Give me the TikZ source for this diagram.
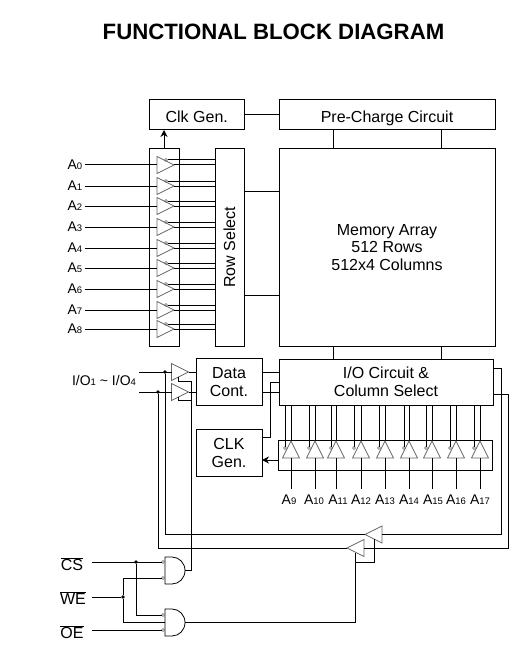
\documentclass[tikz,border=0pt]{standalone}
\usepackage{fontspec}
\setmainfont{Liberation Sans}
\usepackage{tikz}
\usetikzlibrary{positioning,shapes.geometric,arrows.meta}

\newcommand{\lblnum}[1]{{\fontsize{9.5}{10}\selectfont #1}}

\begin{document}
\begin{tikzpicture}[x=1pt, y=-1pt, line width=1pt,
    box/.style={rectangle, draw, outer sep=0pt, inner sep=0pt, align=center, font=\fontsize{16}{17.5}\selectfont},
    tribuf/.style={isosceles triangle, isosceles triangle stretches, draw=black!60, line width=0.7pt, inner sep=0pt, outer sep=0pt, minimum width=17pt, minimum height=17pt, anchor=apex},
    bubble/.style={circle, draw=black!60, line width=0.6pt, inner sep=0pt, minimum size=3pt, outer sep=0pt},
    dot/.style={circle, fill, inner sep=0pt, minimum size=3.6pt},
    addr/.style={inner sep=2pt, font=\fontsize{14}{15}\selectfont},
    sig/.style={inner sep=0pt, font=\fontsize{16}{17}\selectfont},
    andgate/.style={rectangle, inner sep=0pt, outer sep=0pt, minimum width=20pt, minimum height=27pt},
    arrow/.style={-{Stealth[length=7pt, width=7pt]}}]

    \useasboundingbox (0,0) rectangle (526,647);

    \node [font=\fontsize{22.2}{23}\selectfont\bfseries] (title) at (273.5,32) {FUNCTIONAL BLOCK DIAGRAM};

    % upper blocks
    \node [box, text height=16pt, text depth=0pt, minimum width=95.5pt, minimum height=30pt, anchor=north west] (clkgen) at (149,100) {Clk Gen.};
    \node [box, text height=16pt, text depth=0pt, minimum width=216pt, minimum height=30pt, right=34.5pt of clkgen] (precharge) {Pre-Charge Circuit};
    \node [box, minimum width=216pt, minimum height=197pt, below=19pt of precharge] (memory) {Memory Array\\512 Rows\\512x4 Columns};
    \node [box, minimum width=29pt, minimum height=198pt, left=35pt of memory] (rowsel) {};
    \node [rotate=90, font=\fontsize{16}{17}\selectfont] (rowtext) at (rowsel) {Row Select};
    \node [box, minimum width=30pt, minimum height=198pt, left=36pt of rowsel] (addrbox) {};

    % lower blocks
    \node [box, minimum width=214pt, minimum height=46pt, below=13pt of memory.south west, anchor=north west] (iobox) {I/O Circuit \&\\Column Select};
    \node [box, minimum width=66pt, minimum height=47pt, left=17pt of iobox] (datacont) {Data\\Cont.};
    \node [box, minimum width=66pt, minimum height=47pt, below=24pt of datacont] (clkgenb) {CLK\\Gen.};
    \node [box, minimum width=214pt, minimum height=30pt, anchor=north west] (colbox) at (278,440) {};

    \draw (clkgen) -- (precharge);
    \draw [arrow] (addrbox.north) -- (addrbox.north |- clkgen.south);
    \draw (rowsel.east |- 0,191) -- (memory.west |- 0,191);
    \draw (rowsel.east |- 0,295) -- (memory.west |- 0,295);
    \foreach \x in {333,441} {
        \draw (\x,0 |- precharge.south) -- (\x,0 |- memory.north);
        \draw (\x,0 |- memory.south) -- (\x,0 |- iobox.north);
    }

    % row address buffers
    \foreach \i/\y in {0/165,1/186,2/206,3/227,4/248,5/268,6/289,7/310,8/329} {
        \node [addr, anchor=west] (lbl\i) at (65,\y) {A\lblnum{\i}};
        \node [tribuf] (buf\i) at (174,\y) {};
        \node [bubble] (bub\i) at (166,\y-5) {};
        \draw (lbl\i) -- (buf\i.lower side);
        \draw (buf\i.apex) -- (buf\i.apex -| rowsel.west);
        \draw (bub\i.east) -- (bub\i.east -| rowsel.west);
    }

    % column address buffers
    \foreach \c/\l/\n/\t in {291/285/9/289,315/309/10/314,336/331/11/338,361/354/12/361,385/379/13/385,409/404/14/409,432/426/15/433,456/450/16/456,480/474/17/480} {
        \node [tribuf, shape border rotate=90] (cbuf\n) at (\c,441) {};
        \node [bubble] (cbub\n) at (\l,448) {};
        \node [addr, inner sep=0pt] (clbl\n) at (\t,500) {A\lblnum{\n}};
        \draw (cbuf\n.apex) -- (cbuf\n.apex |- iobox.south);
        \draw (cbub\n.north) -- (cbub\n.north |- iobox.south);
        \draw (cbuf\n.lower side) -- (cbuf\n.lower side |- 0,489);
    }
    \draw [arrow] (colbox.west |- 0,460) -- (clkgenb.east |- 0,460);

    % data buffers
    \node [addr, inner sep=0pt] (iolbl) at (104,380) {I/O\lblnum{1} \textasciitilde{} I/O\lblnum{4}};
    \coordinate (ioa) at (139,372);
    \coordinate (iob) at (139,392);
    \node [tribuf] (dbufa) at (188.5,372) {};
    \node [tribuf] (dbufb) at (188.5,392) {};
    \node [dot] (dota) at (165,372) {};
    \node [dot] (dotb) at (158,392) {};
    \draw (ioa) -- (dbufa.lower side);
    \draw (iob) -- (dbufb.lower side);
    \draw (dbufa.apex) -- (dbufa.apex -| datacont.west);
    \draw (dbufb.apex) -- (dbufb.apex -| datacont.west);
    \draw (dbufa.apex -| datacont.east) -- (dbufa.apex -| iobox.west);
    \draw (dbufb.apex -| datacont.east) -- (dbufb.apex -| iobox.west);
    \coordinate (clkup) at (270,437);
    \draw (clkgenb.east |- clkup) -- (clkup) |- (iobox.west);

    % control buffers
    \node [tribuf, shape border rotate=180] (ctrla) at (365,534.5) {};
    \node [tribuf, shape border rotate=180] (ctrlb) at (347,548) {};
    \draw (dota) |- (ctrla.apex);
    \draw (dotb) |- (ctrlb.apex);
    \coordinate (ioouta) at (493,368);
    \coordinate (iooutb) at (493,394);
    \draw (ioouta) -| (501,534.5) -- (ctrla.lower side);
    \draw (iooutb) -| (508,548) -- (ctrlb.lower side);

    % enable logic
    \node [andgate] (gatea) at (175,570.5) {};
    \node [andgate] (gateb) at (175,622.5) {};
    \draw [line width=0.8pt] (gatea.south west) -- (gatea.north west) -- ++(7,0) arc [start angle=90, end angle=-90, x radius=13pt, y radius=13.5pt] -- cycle;
    \draw [line width=0.8pt] (gateb.south west) -- (gateb.north west) -- ++(7,0) arc [start angle=90, end angle=-90, x radius=13pt, y radius=13.5pt] -- cycle;
    \node [bubble] (inaa) at (163,562) {};
    \node [bubble] (inab) at (163,578) {};
    \node [bubble] (inba) at (163,615) {};
    \node [bubble] (inbc) at (163,630) {};
    \node [sig] (cs) at (72,564) {$\overline{\mbox{CS}}$};
    \node [sig] (we) at (73,598) {$\overline{\mbox{WE}}$};
    \node [sig] (oe) at (72,632) {$\overline{\mbox{OE}}$};
    \coordinate (csin) at (92,562);
    \coordinate (wein) at (92,597);
    \coordinate (oein) at (92,630);
    \node [dot] (dotcs) at (136,562) {};
    \node [dot] (dotwe) at (123,597) {};
    \draw (csin) -- (inaa);
    \draw (wein) -- (dotwe);
    \draw (dotwe) |- (inab);
    \draw (dotwe) |- (gateb.west);
    \draw (dotcs) |- (inba);
    \draw (oein) -- (inbc);

    \coordinate (ena) at (191.5,381);
    \coordinate (enb) at (191.5,400.5);
    \draw (178,377) |- (ena);
    \draw (178,397) |- (enb);
    \draw (ena) |- (gatea.east);
    \coordinate (ctrlaen) at (374,539);
    \coordinate (ctrlben) at (355,553);
    \draw (ctrlaen) |- (ctrlben |- 0,562);
    \draw (ctrlben) |- (gateb.east);
\end{tikzpicture}
\end{document}
